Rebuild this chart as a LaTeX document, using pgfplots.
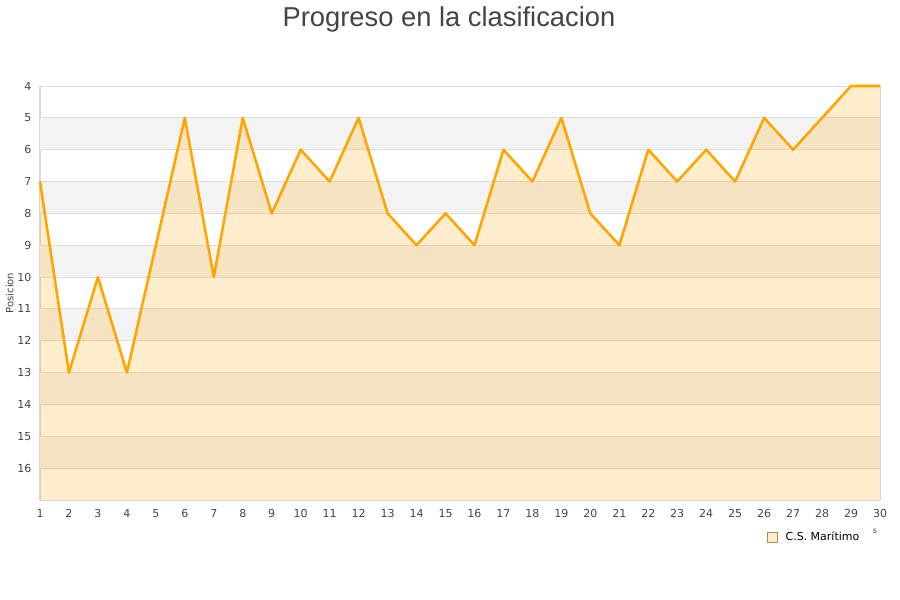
\documentclass[border=0pt]{standalone}
\usepackage{pgfplots}
\pgfplotsset{compat=1.18}
\usepackage{pgfplotstable}
\usepackage{fontspec}
\setmainfont{DejaVu Sans}
\newfontfamily\titlefont{Liberation Sans}

\definecolor{lineorange}{HTML}{FFA500}
\definecolor{band}{HTML}{F3F3F3}
\definecolor{gridc}{HTML}{DDDDDD}
\definecolor{txt}{HTML}{444444}
\definecolor{axisc}{HTML}{D8D8D8}

% jornada, posicion
\pgfplotstableread{
x y
1 7
2 13
3 10
4 13
5 9
6 5
7 10
8 5
9 8
10 6
11 7
12 5
13 8
14 9
15 8
16 9
17 6
18 7
19 5
20 8
21 9
22 6
23 7
24 6
25 7
26 5
27 6
28 5
29 4
30 4
}\posdata

\begin{document}
\begin{tikzpicture}
\path[use as bounding box] (0,0) rectangle (675pt,450pt);
\node[font=\titlefont\fontsize{20.5pt}{24pt}\selectfont, text=txt] at (336.75pt,435.5pt) {Progreso en la clasificacion};
\begin{axis}[
    at={(30pt,75pt)}, anchor=south west,
    scale only axis,
    width=630pt, height=310.5pt,
    xmin=1, xmax=30, ymin=4, ymax=17,
    y dir=reverse,
    xtick={1,...,30},
    ytick={4,...,16},
    major tick length=0pt,
    axis line style={axisc, line width=0.75pt},
    axis x line*=bottom, axis y line*=left,
    tick label style={font=\fontsize{8.25pt}{9pt}\selectfont, text=txt},
    yticklabel style={xshift=-3pt},
    xticklabel style={yshift=-3.5pt},
    /pgf/number format/assume math mode=true,
    ylabel={Posicion},
    ylabel style={font=\fontsize{7.5pt}{9pt}\selectfont, text=txt, at={(axis description cs:-0.036,0.5)}, anchor=center, rotate=0},
    xlabel={s},
    xlabel style={font=\fontsize{6pt}{7pt}\selectfont, text=txt, at={(axis description cs:0.994,-0.075)}, anchor=center},
    legend style={at={(axis description cs:0.922,-0.089)}, anchor=center, draw=none, fill=none,
        font=\fontsize{8.25pt}{9pt}\selectfont, legend cell align=left,
        /tikz/every odd column/.append style={column sep=4pt}},
    legend image code/.code={\draw[#1] (0pt,-3.75pt) rectangle (7.5pt,3.75pt);},
    clip=false,
]
% background bands and grid
\pgfplotsinvokeforeach{5,7,9,11,13,15}{
  \fill[band] (axis cs:1,#1) rectangle (axis cs:30,#1+1);
}
\pgfplotsinvokeforeach{4,...,16}{
  \draw[gridc, line width=0.75pt] (axis cs:1,#1) -- (axis cs:30,#1);
}
\draw[axisc, line width=0.75pt] (axis cs:30,4) -- (axis cs:30,17);
\addplot[draw=none, fill=lineorange, fill opacity=0.2, forget plot] table {\posdata} |- (axis cs:1,17) -- cycle;
\addplot[lineorange, line width=1.9pt, line join=round, mark=none, forget plot] table {\posdata};
\addlegendimage{fill=lineorange!20, draw=lineorange!55!black!70, line width=0.5pt}
\addlegendentry{C.S. Marítimo}
\end{axis}
\end{tikzpicture}
\end{document}
